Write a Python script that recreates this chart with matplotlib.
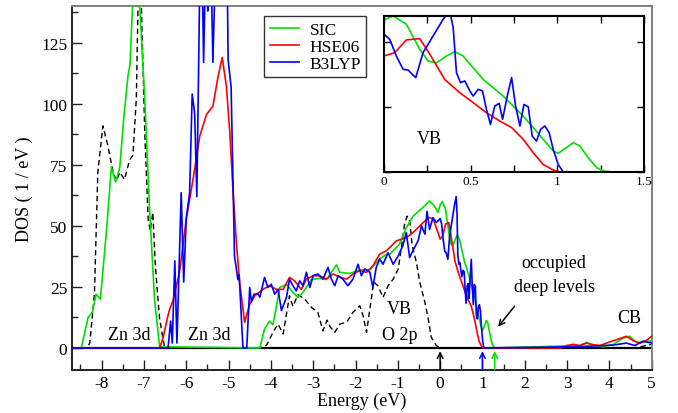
import matplotlib
matplotlib.use('Agg')
import matplotlib.pyplot as plt
from matplotlib.ticker import MultipleLocator

plt.rcParams['font.family'] = ['Liberation Serif', 'DejaVu Serif']
plt.rcParams['axes.unicode_minus'] = False

# SIC (green)
e_sic = [-8.7, -8.48, -8.32, -8.22, -8.13, -8.03, -7.89, -7.77, -7.67, -7.57, -7.48, -7.38,
         -7.33, -7.27, -7.19, -7.1, -6.98, -6.87, -6.75, -6.63, -4.26, -4.15, -4.03, -3.95,
         -3.87, -3.79, -3.63, -3.48, -3.36, -3.24, -3.04, -2.85, -2.69, -2.53, -2.45, -2.37,
         -2.14, -1.9, -1.66, -1.5, -1.43, -1.27, -1.19, -0.96, -0.8, -0.64, -0.41, -0.25,
         -0.13, -0.05,
         0.0, 0.052, 0.129, 0.206, 0.254, 0.302, 0.36, 0.408, 0.456, 0.514, 0.572, 0.63,
         0.687, 0.745, 0.803, 0.861, 0.918, 0.976, 1.005, 1.053, 1.092, 1.13, 1.178, 1.227,
         1.265, 1.32, 3.3, 3.46, 3.62, 3.86, 4.1, 4.32, 4.48, 4.64, 4.84, 5.0]
dos_sic = [0, 0, 12.5, 14.6, 22, 20, 47, 74, 68, 74, 93.6, 111,
           116, 140, 175, 140, 102, 58, 20, 0.5, 0, 7.8, 11, 9.5,
           17, 24.8, 26, 22.8, 20.7, 22.8, 28, 28.6, 28, 32, 34, 31,
           30.5, 32, 32, 35, 36.4, 38.4, 38.4, 42.5, 49.3, 54, 57.5, 60.2,
           58, 55.5,
           58.5, 60, 56.8, 47.2, 42.7, 42, 44.6, 46.3, 44.6, 40.1, 35.6, 32.4,
           29.2, 25.4, 21.5, 17.1, 12.6, 8.1, 7.2, 9.4, 11.3, 10, 5.5, 1.7,
           0.4, 0, 1, 2.3, 1.2, 0.5, 1.5, 4, 4.8, 2.3, 2.3, 3]

# HSE06 (red)
e_hse = [-8.7, -6.63, -6.55, -6.45, -6.39, -6.31, -6.16, -6.0, -5.84, -5.68, -5.52, -5.37,
         -5.25, -5.15, -5.05, -4.97, -4.9, -4.82, -4.74, -4.62, -4.5, -4.38, -4.19, -4.03,
         -3.87, -3.71, -3.56, -3.44, -3.28, -3.16, -3.0, -2.85, -2.69, -2.53, -2.37, -2.21,
         -2.06, -1.9, -1.74, -1.59, -1.43, -1.27, -1.03, -0.8, -0.64, -0.48, -0.28, -0.17,
         -0.05,
         0.0, 0.062, 0.129, 0.206, 0.264, 0.35, 0.437, 0.514, 0.591, 0.668, 0.736, 0.803,
         0.861, 0.918, 0.976, 1.015, 2.85, 2.99, 3.15, 3.3, 3.46, 3.62, 3.78, 3.93, 4.17,
         4.4, 4.56, 4.72, 4.87, 5.0]
dos_hse = [0, 0, 4, 12, 16, 19.5, 31, 52.7, 69, 86.8, 95.7, 99,
           111, 119, 107, 88, 66, 44.3, 27, 10.5, 18, 21.4, 24, 25.5,
           24, 24, 28.9, 27.5, 24, 28.2, 29.6, 29.6, 28.2, 30.3, 29, 28.2,
           30.3, 31.7, 31, 33.6, 38.4, 39.8, 43.9, 45.2, 47.3, 50, 53.4, 53,
           47.3,
           44.6, 45.9, 50.8, 51.3, 45.3, 35.6, 30.5, 26.7, 22.8, 19.6, 17.1, 12.6,
           7.4, 2.9, 0.8, 0, 0, 1, 1.5, 1, 2, 1.3, 1, 2, 3.4,
           4.8, 3, 2, 3, 4.8]

# B3LYP (blue)
e_b3 = [-8.7, -6.43, -6.37, -6.33, -6.27, -6.22, -6.12, -6.06, -6.0, -5.92, -5.86, -5.8,
        -5.75, -5.68, -5.64, -5.59, -5.54, -5.49, -5.43, -5.37, -5.32, -5.27, -5.2, -5.12,
        -5.05, -5.01, -4.94, -4.91, -4.86, -4.78, -4.75, -4.66, -4.57, -4.5, -4.46, -4.4,
        -4.31, -4.26, -4.15, -4.07, -3.99, -3.91, -3.83, -3.75, -3.63, -3.56, -3.48, -3.4,
        -3.32, -3.24, -3.16, -3.08, -3.0, -2.89, -2.77, -2.65, -2.57, -2.49, -2.41, -2.3,
        -2.18, -2.06, -1.94, -1.86, -1.78, -1.66, -1.59, -1.51, -1.43, -1.35, -1.23, -1.11,
        -0.99, -0.88, -0.8, -0.72, -0.64, -0.52, -0.44, -0.36, -0.31, -0.25, -0.17, -0.09,
        0.0, 0.033, 0.071, 0.11, 0.139, 0.183, 0.225, 0.283, 0.341, 0.379, 0.399, 0.418,
        0.441, 0.466, 0.495, 0.514, 0.543, 0.568, 0.591, 0.614, 0.639, 0.664, 0.684, 0.711,
        0.736, 0.759, 0.784, 0.807, 0.832, 0.855, 0.88, 0.903, 0.928, 0.953, 0.976, 1.005,
        1.034, 3.15, 3.6, 4.1, 4.4, 4.6, 4.8, 5.0]
dos_b3 = [0, 0, 11, 2, 35.7, 2, 63.6, 27, 53, 63.6, 104, 96,
          62, 150, 175, 117, 160, 138, 170, 117, 150, 180, 190, 160,
          180, 118, 107, 81, 37.7, 28, 30, 0, 0, 24.8, 18.8, 22,
          22.2, 20.8, 28.9, 24.8, 26.1, 22, 24, 15.3, 20.8, 28.2, 25.5, 23.4,
          27.5, 25.5, 31, 24.8, 29.6, 30.3, 28.2, 33, 28.2, 25.5, 29.6, 28.2,
          25.5, 28.2, 34.3, 29.6, 32.4, 31, 24.8, 33, 36.4, 34.3, 39, 34.3,
          37.7, 42, 47.3, 37, 40, 43.9, 50, 46.6, 56, 48.6, 53.4, 51.4,
          53, 51, 44.6, 39.5, 39.2, 36.3, 45.9, 52.3, 58.7, 62, 55.5, 38.2,
          34.4, 35, 31.2, 29.2, 31.8, 31.2, 24.1, 18.3, 25.4, 26.4, 20.3, 29.2,
          36.3, 25.4, 17.7, 26, 25.1, 13.8, 11.9, 16.4, 17.7, 15.1, 8.7, 2.9,
          0, 0.5, 0.8, 1.2, 2, 1, 2.8, 2]

# black dashed curve
e_ref = [-8.7, -8.35, -8.28, -8.17, -8.09, -7.97, -7.85, -7.73, -7.65, -7.57, -7.46, -7.34,
         -7.26, -7.18, -7.14, -7.1, -7.06, -6.98, -6.9, -6.85, -6.79, -6.73, -6.63, -6.51,
         -4.26, -4.1, -3.95, -3.83, -3.71, -3.56, -3.48, -3.36, -3.2, -3.04, -2.89, -2.77,
         -2.67, -2.6, -2.49, -2.37, -2.21, -2.06, -1.9, -1.82, -1.74, -1.66, -1.57, -1.47,
         -1.35, -1.23, -1.11, -0.99, -0.91, -0.84, -0.78, -0.72, -0.66, -0.56, -0.48, -0.36,
         -0.28, -0.21, -0.09, 0.0, 4.6, 5.0]
dos_ref = [0, 0, 2, 22, 72, 91, 82.7, 72, 68.4, 72, 69, 77,
           79, 102, 140, 200, 140, 88, 52.7, 48, 55.5, 33.6, 12, 0,
           0, 1.2, 6.4, 9.8, 5.7, 21.4, 17, 21.8, 20, 16.6, 14.6, 7,
           11.4, 8.7, 6.4, 9.8, 10.5, 14.6, 17.3, 13.2, 6.4, 16, 27, 25.5,
           20.7, 25.5, 28.2, 32.3, 42, 50.7, 54, 52, 42, 35, 26.9, 18.7,
           11.9, 4.4, 1, 0, 0, 1.5]

labels = ['SIC', 'HSE06', 'B3LYP']
colors = ['#00e000', '#ff0000', '#0000ff']

fig = plt.figure(figsize=(6.78, 4.14), dpi=100)
ax = fig.add_axes([0.1062, 0.1046, 0.855, 0.878])

ax.axhline(0, color='black', lw=1.6, zorder=1)
ax.plot(e_ref, dos_ref, color='black', lw=1.0, ls=(0, (4, 2.5)), zorder=2)
lines = []
for e, d, lab, c in zip([e_sic, e_hse, e_b3], [dos_sic, dos_hse, dos_b3], labels, colors):
    ln, = ax.plot(e, d, color=c, lw=1.2, label=lab, zorder=3)
    lines.append(ln)

ax.set_xlim(-8.7, 5)
ax.set_ylim(-8.9, 140)
ax.xaxis.set_major_locator(MultipleLocator(1))
ax.xaxis.set_minor_locator(MultipleLocator(0.5))
ax.yaxis.set_major_locator(MultipleLocator(25))
ax.yaxis.set_minor_locator(MultipleLocator(12.5))
ax.tick_params(which='both', direction='in', top=False, right=False, labelsize=12.5,
               width=1.0, color='#222222')
ax.tick_params(which='major', length=7)
ax.tick_params(which='minor', length=4)
ax.set_yticks([0, 25, 50, 75, 100, 125])
for s in ['left', 'bottom']:
    ax.spines[s].set_color('#222222')
    ax.spines[s].set_linewidth(1.4)
for s in ['top', 'right']:
    ax.spines[s].set_color('#808080')
    ax.spines[s].set_linewidth(1.4)
ax.set_xlabel('Energy (eV)', fontsize=13, labelpad=1)
ax.set_ylabel('DOS ( 1 / eV )', fontsize=13, labelpad=6)

leg = ax.legend(handles=lines, loc='upper left', bbox_to_anchor=(0.332, 0.972), fontsize=12.5,
                frameon=True, fancybox=False, edgecolor='black', borderpad=0.3,
                labelspacing=0.05, handlelength=1.7, handletextpad=0.6, borderaxespad=0)
leg.get_frame().set_linewidth(1.0)

ax.text(-7.34, 5.7, 'Zn 3d', fontsize=13, ha='center', va='center')
ax.text(-5.45, 5.7, 'Zn 3d', fontsize=13, ha='center', va='center')
ax.text(-0.96, 16, 'VB', fontsize=13, ha='center', va='center')
ax.text(-0.96, 5.7, 'O 2p', fontsize=13, ha='center', va='center')
ax.text(2.69, 35, 'occupied', fontsize=13, ha='center', va='center')
ax.text(2.71, 25.2, 'deep levels', fontsize=13, ha='center', va='center')
ax.text(4.48, 12.5, 'CB', fontsize=13, ha='center', va='center')
ax.annotate('', xy=(1.33, 7.8), xytext=(1.8, 18),
            arrowprops=dict(arrowstyle='->', color='black', lw=1.1))
for xe, c in zip([0.0, 1.0, 1.29], ['black', '#0000ff', '#00e000']):
    ax.annotate('', xy=(xe, -1.3), xytext=(xe, -8.9),
                arrowprops=dict(arrowstyle='->', color=c, lw=1.1, shrinkA=0, shrinkB=0))

# inset
axi = fig.add_axes([0.5664, 0.582, 0.3835, 0.377])
for e, d, c in zip([e_sic, e_hse, e_b3], [dos_sic, dos_hse, dos_b3], colors):
    axi.plot(e, d, color=c, lw=1.2)
axi.set_xlim(0, 1.5)
axi.set_ylim(0, 60)
axi.yaxis.set_major_locator(MultipleLocator(25))
axi.set_xticks([0, 0.5, 1, 1.5])
axi.set_xticklabels(['0', '0.5', '1', '1.5'])
axi.set_xticks([0.25, 0.75, 1.25], minor=True)
axi.tick_params(which='both', direction='in', top=True, right=True, labelsize=9.5,
                length=5, width=1.0, pad=2)
axi.tick_params(axis='y', labelleft=False)
for s in axi.spines.values():
    s.set_linewidth(1.5)
axi.text(0.26, 13, 'VB', fontsize=13, ha='center', va='center')

fig.savefig('out.png', dpi=100)
